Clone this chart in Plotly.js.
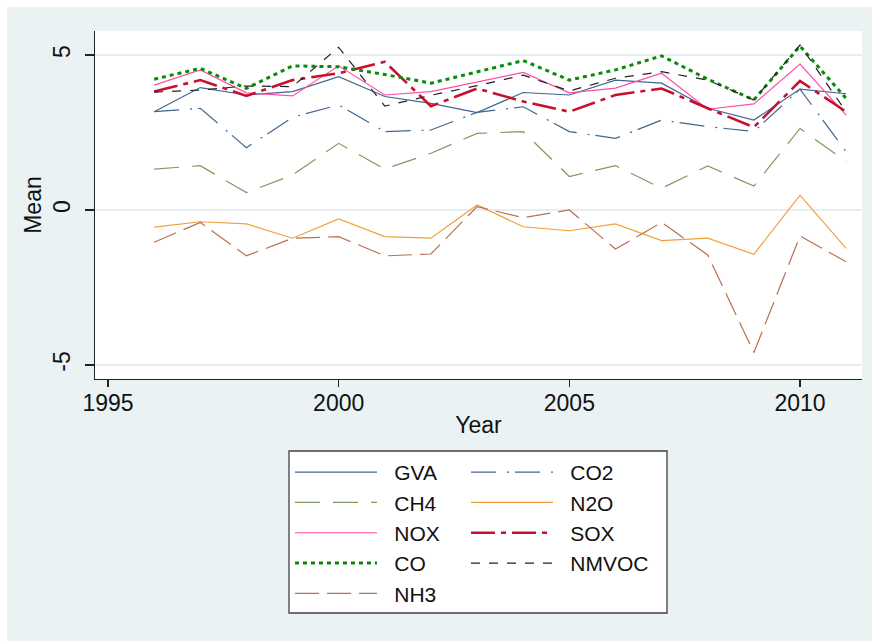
<!DOCTYPE html>
<html>
<head>
<meta charset="utf-8">
<script src="https://cdn.plot.ly/plotly-3.0.1.min.js"></script>
<style>
  html, body { margin: 0; padding: 0; background: #ffffff; }
  #chart { position: absolute; left: 7px; top: 7px; width: 865px; height: 634px; }
</style>
</head>
<body>
<div id="chart"></div>
<script>
// ---- data ----
const years = [1996,1997,1998,1999,2000,2001,2002,2003,2004,2005,2006,2007,2008,2009,2010,2011];
const GVA   = [3.17,3.95,3.71,3.82,4.30,3.66,3.44,3.14,3.79,3.71,4.19,4.09,3.28,2.90,3.90,3.75];
const CO2   = [3.17,3.28,2.01,2.99,3.39,2.53,2.58,3.15,3.33,2.53,2.31,2.90,2.69,2.53,3.90,1.88];
const CH4   = [1.32,1.43,0.56,1.13,2.15,1.32,1.83,2.47,2.53,1.08,1.43,0.70,1.42,0.77,2.63,1.56];
const N2O   = [-0.55,-0.38,-0.45,-0.91,-0.29,-0.86,-0.91,0.16,-0.54,-0.67,-0.45,-0.99,-0.91,-1.43,0.48,-1.24];
const NOX   = [4.03,4.52,3.78,3.68,4.65,3.71,3.82,4.13,4.44,3.78,3.93,4.41,3.25,3.42,4.71,3.06];
const SOX   = [3.82,4.19,3.68,4.19,4.41,4.78,3.35,3.92,3.50,3.17,3.71,3.92,3.28,2.67,4.16,3.17];
const CO    = [4.22,4.57,3.92,4.65,4.62,4.37,4.09,4.46,4.82,4.19,4.52,4.97,4.22,3.55,5.29,3.60];
const NMVOC = [3.80,3.87,4.00,3.98,5.25,3.35,3.70,4.01,4.35,3.84,4.25,4.46,4.19,3.55,5.32,3.17];
const NH3   = [-1.04,-0.40,-1.48,-0.91,-0.86,-1.48,-1.42,0.11,-0.25,0.00,-1.26,-0.40,-1.45,-4.60,-0.84,-1.67];

const seriesNames = ['GVA','CO2','CH4','N2O','NOX','SOX','CO','NMVOC','NH3'];
const xTicks = [1995, 2000, 2005, 2010];
const yTicks = [-5, 0, 5];

// ---- styles ----
const values = [GVA, CO2, CH4, N2O, NOX, SOX, CO, NMVOC, NH3];
const styles = [
  {color: '#41668f', width: 1.2, dash: 'solid'},
  {color: '#41668f', width: 1.2, dash: '25px,11px,2px,6px'},
  {color: '#7f9a5f', width: 1.2, dash: '25px,13px'},
  {color: '#f0a03c', width: 1.2, dash: 'solid'},
  {color: '#ff4da6', width: 1.2, dash: 'solid'},
  {color: '#c8102e', width: 2.6, dash: '24px,6px,5px,6px'},
  {color: '#0a8a0a', width: 3,   dash: '4px,4px'},
  {color: '#222222', width: 1.2, dash: '9px,9px'},
  {color: '#b8714f', width: 1.2, dash: '24px,8px'}
];

// two-column legend: even-indexed series in the left column, odd in the right
const traces = seriesNames.map((n, i) => ({
  type: 'scatter', mode: 'lines',
  name: '\u2002\u200a' + n,
  legend: (i % 2 === 0) ? 'legend' : 'legend2',
  x: years, y: values[i],
  line: styles[i]
}));

const fontFam = 'Arial, "Liberation Sans", sans-serif';

// plot area in page pixels: x 95..862, y 31..379
const px = v => (v - 95) / 767;
const py = v => (379 - v) / 348;

const legendCommon = {
  orientation: 'v',
  yanchor: 'top', xanchor: 'left',
  bgcolor: 'rgba(0,0,0,0)', borderwidth: 0,
  font: {size: 21, color: '#111'},
  itemwidth: 82,
  traceorder: 'normal'
};

const layout = {
  width: 865, height: 634,
  paper_bgcolor: '#eaf2f3',
  plot_bgcolor: '#ffffff',
  margin: {l: 88, r: 10, t: 24, b: 262, pad: 0, autoexpand: false},
  font: {family: fontFam, size: 23, color: '#111111'},
  showlegend: true,
  xaxis: {
    range: [1994.718, 2011.344],
    tickvals: xTicks, ticktext: xTicks.map(String),
    ticks: 'outside', ticklen: 7, tickcolor: '#222', tickwidth: 1.2,
    showline: true, linecolor: '#222', linewidth: 1.3,
    showgrid: false, zeroline: false,
    tickfont: {size: 23},
    ticklabelstandoff: -4,
    title: {text: 'Year', font: {size: 23}, standoff: 2}
  },
  yaxis: {
    range: [-5.452, 5.774],
    tickvals: yTicks, ticktext: yTicks.map(String),
    ticks: 'outside', ticklen: 9, tickcolor: '#222', tickwidth: 1.2,
    showline: true, linecolor: '#222', linewidth: 1.3,
    showgrid: true, gridcolor: '#e6eef1', gridwidth: 1.2,
    zeroline: false,
    tickangle: -90,
    tickfont: {size: 23},
    ticklabelstandoff: 6,
    title: {text: 'Mean', font: {size: 23}, standoff: 0}
  },
  legend:  Object.assign({}, legendCommon, {x: px(290), y: py(452)}),
  legend2: Object.assign({}, legendCommon, {x: px(466), y: py(452)}),
  shapes: [{
    type: 'rect', xref: 'paper', yref: 'paper', layer: 'below',
    x0: px(289), x1: px(667), y0: py(613), y1: py(451),
    fillcolor: '#ffffff', line: {color: '#404040', width: 1.3}
  }]
};

Plotly.newPlot('chart', traces, layout, {displayModeBar: false, staticPlot: true});
</script>
</body>
</html>
